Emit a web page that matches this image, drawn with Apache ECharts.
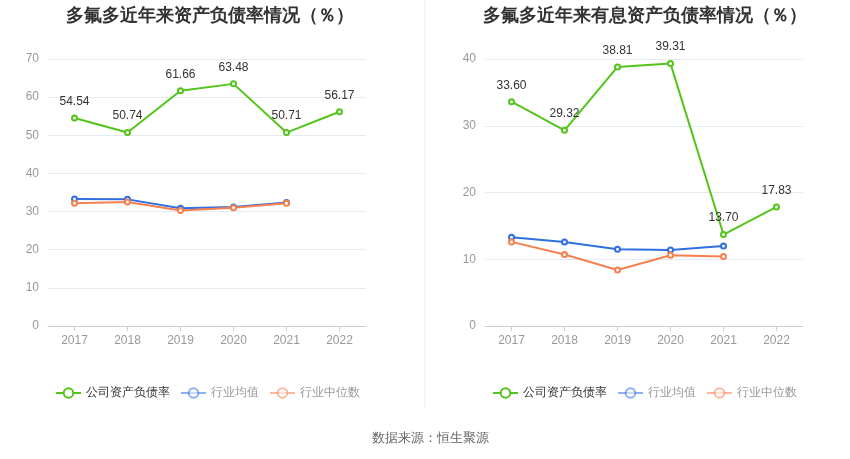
<!DOCTYPE html>
<html><head><meta charset="utf-8">
<script src="https://cdn.jsdelivr.net/npm/echarts@6/dist/echarts.min.js"></script>
<style>html,body{margin:0;padding:0;background:#fff}#c{width:850px;height:459px}</style>
</head><body><div id="c"></div>
<script>
const years = ['2017','2018','2019','2020','2021','2022'];
const leftCompany = [54.54, 50.74, 61.66, 63.48, 50.71, 56.17];
const leftMean = [33.3, 33.2, 30.9, 31.2, 32.4, null];
const leftMedian = [32.2, 32.5, 30.3, 31.0, 32.2, null];
const rightCompany = [33.60, 29.32, 38.81, 39.31, 13.70, 17.83];
const rightMean = [13.3, 12.6, 11.5, 11.4, 12.0, null];
const rightMedian = [12.6, 10.7, 8.4, 10.6, 10.4, null];
const leftTitle = '多氟多近年来资产负债率情况（％）';
const rightTitle = '多氟多近年来有息资产负债率情况（％）';
const names = ['公司资产负债率','行业均值','行业中位数'];

const green = '#52c41a', blue = '#2f6fe0', orange = '#f7804f';
const font = 'sans-serif';

function mk(name, data, color, idx, label) {
  return {
    name, type: 'line', data, xAxisIndex: idx, yAxisIndex: idx,
    symbol: 'emptyCircle', symbolSize: 5, showSymbol: true,
    connectNulls: false,
    lineStyle: { color, width: 2 }, itemStyle: { color, borderWidth: 2 },
    label: label ? { show: true, position: 'top', color: '#333', fontSize: 12, distance: 7, formatter: p => p.value.toFixed(2) } : { show: false },
    emphasis: { disabled: true }
  };
}
function xa(idx) {
  return { type: 'category', gridIndex: idx, data: years, boundaryGap: true,
    axisLine: { lineStyle: { color: '#ccc' } }, axisTick: { show: true, alignWithLabel: true, lineStyle: { color: '#ccc' } },
    axisLabel: { color: '#999', fontSize: 12, margin: 9 } };
}
function ya(idx, max, interval) {
  return { type: 'value', gridIndex: idx, min: 0, max, interval,
    axisLine: { show: false }, axisTick: { show: false },
    axisLabel: { color: '#999', fontSize: 12, margin: 9 },
    splitLine: { lineStyle: { color: '#e6eaf3' } } };
}
function legend(left) {
  return { left, top: 382, itemWidth: 25, itemHeight: 12, itemGap: 10,
    data: [
      { name: names[0], textStyle: { color: '#333' } },
      { name: names[1], textStyle: { color: '#999' }, itemStyle: { opacity: 0.55 }, lineStyle: { opacity: 0.55 } },
      { name: names[2], textStyle: { color: '#999' }, itemStyle: { opacity: 0.55 }, lineStyle: { opacity: 0.55 } }
    ],
    textStyle: { fontSize: 12 } };
}
const chart = echarts.init(document.getElementById('c'));
chart.setOption({
  animation: false,
  textStyle: { fontFamily: font },
  title: [
    { text: leftTitle, left: 205, top: 2, textAlign: 'center', textStyle: { fontSize: 18, fontWeight: 'bold', color: '#333' } },
    { text: rightTitle, left: 640, top: 2, textAlign: 'center', textStyle: { fontSize: 18, fontWeight: 'bold', color: '#333' } },
    { text: '数据来源：恒生聚源', left: 425, top: 427, textAlign: 'center', textStyle: { fontSize: 13, fontWeight: 'normal', color: '#666' } }
  ],
  legend: [ Object.assign(legend(50), { id: 'l0' }), Object.assign(legend(487), { id: 'l1' }) ],
  grid: [
    { left: 48, width: 318, top: 59, height: 267 },
    { left: 485, width: 318, top: 59, height: 267 }
  ],
  xAxis: [xa(0), xa(1)],
  yAxis: [ya(0, 70, 10), ya(1, 40, 10)],
  graphic: [{ type: 'line', shape: { x1: 425, y1: 0, x2: 425, y2: 408 }, style: { stroke: '#eee', lineWidth: 1 } }],
  series: [
    mk(names[0], leftCompany, green, 0, true),
    mk(names[1], leftMean, blue, 0, false),
    mk(names[2], leftMedian, orange, 0, false),
    mk(names[0], rightCompany, green, 1, true),
    mk(names[1], rightMean, blue, 1, false),
    mk(names[2], rightMedian, orange, 1, false)
  ]
});
</script></body></html>
